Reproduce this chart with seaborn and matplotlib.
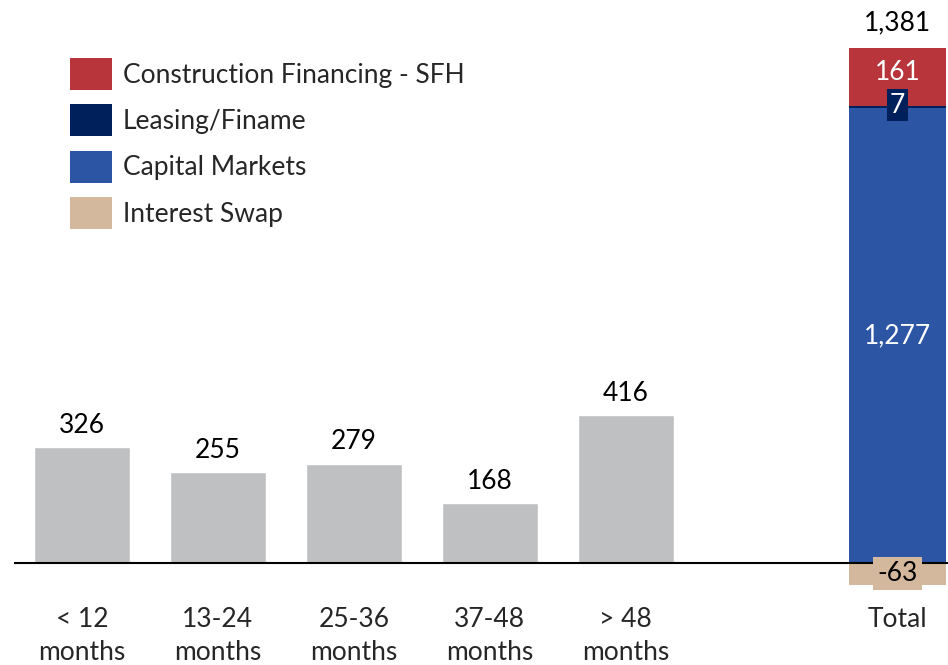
import pandas as pd
import matplotlib.pyplot as plt
import seaborn as sns
from matplotlib.patches import Patch

# gray maturity bars
buckets = ["< 12\nmonths", "13-24\nmonths", "25-36\nmonths", "37-48\nmonths", "> 48\nmonths"]
amounts = [326, 255, 279, 168, 416]

# total bar breakdown
segments = ["Capital Markets", "Leasing/Finame", "Construction Financing - SFH", "Interest Swap"]
segment_values = [1277, 7, 161, -63]
total_value = 1381
total_label = "Total"

colors = {
    "Construction Financing - SFH": "#B8353B",
    "Leasing/Finame": "#00205C",
    "Capital Markets": "#2C55A4",
    "Interest Swap": "#D3B89D",
}
gray = "#BFC0C2"
FS = 19

sns.set_theme(style="white")
plt.rcParams["font.family"] = ["Lato", "DejaVu Sans"]

df = pd.DataFrame({"bucket": buckets, "amount": amounts})
order = buckets + [" ", total_label]

fig = plt.figure(figsize=(9.48, 6.65), dpi=100)
ax = fig.add_axes([14 / 948, 75 / 665, 934 / 948, 590 / 665])

sns.barplot(data=df, x="bucket", y="amount", order=order, color=gray,
            width=0.71, saturation=1, ax=ax)

for i, v in enumerate(amounts):
    ax.text(i, v + 61, f"{v:,}", ha="center", va="center", fontsize=FS, color="black")

# stacked total
tx = len(order) - 1
bottom = 0
for name, v in zip(segments, segment_values):
    if v >= 0:
        ax.bar(tx, v, bottom=bottom, width=0.71, color=colors[name], linewidth=0)
        bottom += v
    else:
        ax.bar(tx, v, bottom=0, width=0.71, color=colors[name], linewidth=0)

cm, lf, cf, sw = segment_values
ax.text(tx, cm / 2, f"{cm:,}", ha="center", va="center", fontsize=FS, color="white")
ax.text(tx, cm + lf + cf / 2 + 12, f"{cf:,}", ha="center", va="center", fontsize=FS, color="white")
ax.text(tx, cm + lf + 2, f"{lf:,}", ha="center", va="center", fontsize=FS, color="white",
        bbox=dict(boxstyle="square,pad=0.12", fc=colors["Leasing/Finame"], ec="none"))
ax.text(tx, sw / 2 + 2, f"{sw:,}", ha="center", va="center", fontsize=FS, color="black",
        bbox=dict(boxstyle="square,pad=0.16", fc=colors["Interest Swap"], ec="none"))
ax.text(tx, cm + lf + cf + 72, f"{total_value:,}", ha="center", va="center",
        fontsize=FS, color="black")

ax.axhline(0, color="black", linewidth=1.5)
ax.set_ylim(-76, 1581)
ax.set_xlim(-0.5, 6.37)
ax.set_xticks(range(len(order)))
ax.set_xticklabels(order, fontsize=FS, linespacing=1.4)
ax.tick_params(axis="x", length=0, pad=12)
ax.set_yticks([])
ax.set_xlabel("")
ax.set_ylabel("")
for s in ax.spines.values():
    s.set_visible(False)

legend_order = ["Construction Financing - SFH", "Leasing/Finame", "Capital Markets", "Interest Swap"]
handles = [Patch(facecolor=colors[n], edgecolor="none", label=n) for n in legend_order]
ax.legend(handles=handles, loc="upper left", bbox_to_anchor=(70 / 948, 1 - 58 / 665),
          bbox_transform=fig.transFigure, frameon=False, fontsize=FS,
          handlelength=1.59, handleheight=1.49, handletextpad=0.42, labelspacing=0.54,
          borderaxespad=0, borderpad=0)

fig.savefig("out.png", dpi=100)
